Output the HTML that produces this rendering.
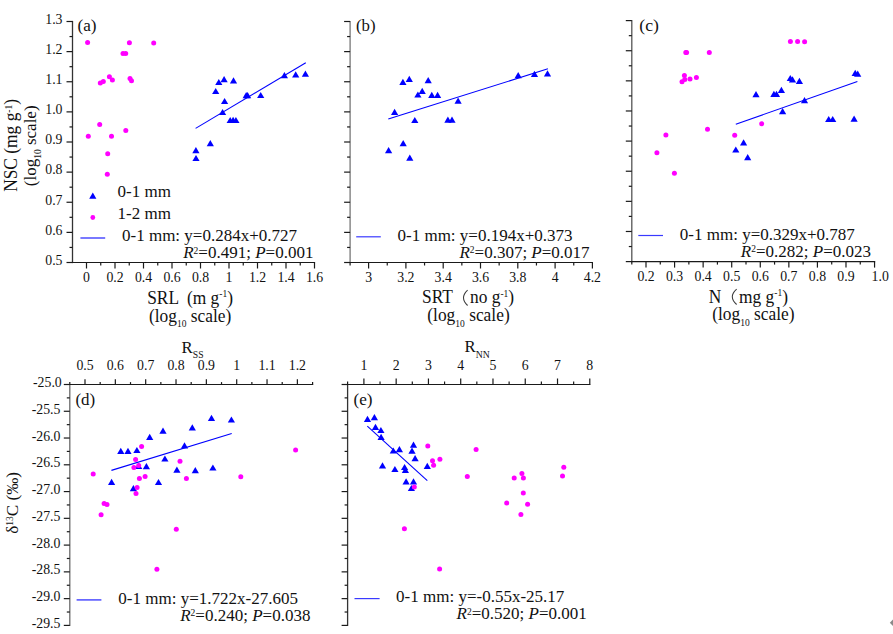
<!DOCTYPE html>
<html><head><meta charset="utf-8"><title>Figure</title>
<style>
html,body{margin:0;padding:0;background:#fff;}
body{width:893px;height:634px;overflow:hidden;}
svg{display:block;font-family:"Liberation Serif", serif;}
text{fill:#111;}
</style></head>
<body>
<svg width="893" height="634" viewBox="0 0 893 634">
<rect width="893" height="634" fill="#fff"/>
<line x1="72.50" y1="20.90" x2="72.50" y2="263.10" stroke="#333" stroke-width="1.3"/>
<line x1="66.50" y1="21.50" x2="72.50" y2="21.50" stroke="#1a1a1a" stroke-width="1.2"/>
<text x="62.50" y="23.80" font-size="13.8" text-anchor="end" >1.3</text>
<line x1="69.50" y1="36.56" x2="72.50" y2="36.56" stroke="#1a1a1a" stroke-width="1.2"/>
<line x1="66.50" y1="51.62" x2="72.50" y2="51.62" stroke="#1a1a1a" stroke-width="1.2"/>
<text x="62.50" y="53.92" font-size="13.8" text-anchor="end" >1.2</text>
<line x1="69.50" y1="66.69" x2="72.50" y2="66.69" stroke="#1a1a1a" stroke-width="1.2"/>
<line x1="66.50" y1="81.75" x2="72.50" y2="81.75" stroke="#1a1a1a" stroke-width="1.2"/>
<text x="62.50" y="84.05" font-size="13.8" text-anchor="end" >1.1</text>
<line x1="69.50" y1="96.81" x2="72.50" y2="96.81" stroke="#1a1a1a" stroke-width="1.2"/>
<line x1="66.50" y1="111.88" x2="72.50" y2="111.88" stroke="#1a1a1a" stroke-width="1.2"/>
<text x="62.50" y="114.17" font-size="13.8" text-anchor="end" >1.0</text>
<line x1="69.50" y1="126.94" x2="72.50" y2="126.94" stroke="#1a1a1a" stroke-width="1.2"/>
<line x1="66.50" y1="142.00" x2="72.50" y2="142.00" stroke="#1a1a1a" stroke-width="1.2"/>
<text x="62.50" y="144.30" font-size="13.8" text-anchor="end" >0.9</text>
<line x1="69.50" y1="157.06" x2="72.50" y2="157.06" stroke="#1a1a1a" stroke-width="1.2"/>
<line x1="66.50" y1="172.12" x2="72.50" y2="172.12" stroke="#1a1a1a" stroke-width="1.2"/>
<text x="62.50" y="174.43" font-size="13.8" text-anchor="end" >0.8</text>
<line x1="69.50" y1="187.19" x2="72.50" y2="187.19" stroke="#1a1a1a" stroke-width="1.2"/>
<line x1="66.50" y1="202.25" x2="72.50" y2="202.25" stroke="#1a1a1a" stroke-width="1.2"/>
<text x="62.50" y="204.55" font-size="13.8" text-anchor="end" >0.7</text>
<line x1="69.50" y1="217.31" x2="72.50" y2="217.31" stroke="#1a1a1a" stroke-width="1.2"/>
<line x1="66.50" y1="232.38" x2="72.50" y2="232.38" stroke="#1a1a1a" stroke-width="1.2"/>
<text x="62.50" y="234.68" font-size="13.8" text-anchor="end" >0.6</text>
<line x1="69.50" y1="247.44" x2="72.50" y2="247.44" stroke="#1a1a1a" stroke-width="1.2"/>
<line x1="66.50" y1="262.50" x2="72.50" y2="262.50" stroke="#1a1a1a" stroke-width="1.2"/>
<text x="62.50" y="264.80" font-size="13.8" text-anchor="end" >0.5</text>
<line x1="71.90" y1="262.50" x2="315.10" y2="262.50" stroke="#1a1a1a" stroke-width="1.2"/>
<line x1="86.50" y1="262.50" x2="86.50" y2="268.50" stroke="#1a1a1a" stroke-width="1.2"/>
<text x="86.50" y="281.50" font-size="13.8" text-anchor="middle" >0</text>
<line x1="115.00" y1="262.50" x2="115.00" y2="268.50" stroke="#1a1a1a" stroke-width="1.2"/>
<text x="115.00" y="281.50" font-size="13.8" text-anchor="middle" >0.2</text>
<line x1="143.50" y1="262.50" x2="143.50" y2="268.50" stroke="#1a1a1a" stroke-width="1.2"/>
<text x="143.50" y="281.50" font-size="13.8" text-anchor="middle" >0.4</text>
<line x1="172.00" y1="262.50" x2="172.00" y2="268.50" stroke="#1a1a1a" stroke-width="1.2"/>
<text x="172.00" y="281.50" font-size="13.8" text-anchor="middle" >0.6</text>
<line x1="200.50" y1="262.50" x2="200.50" y2="268.50" stroke="#1a1a1a" stroke-width="1.2"/>
<text x="200.50" y="281.50" font-size="13.8" text-anchor="middle" >0.8</text>
<line x1="229.00" y1="262.50" x2="229.00" y2="268.50" stroke="#1a1a1a" stroke-width="1.2"/>
<text x="229.00" y="281.50" font-size="13.8" text-anchor="middle" >1</text>
<line x1="257.50" y1="262.50" x2="257.50" y2="268.50" stroke="#1a1a1a" stroke-width="1.2"/>
<text x="257.50" y="281.50" font-size="13.8" text-anchor="middle" >1.2</text>
<line x1="286.00" y1="262.50" x2="286.00" y2="268.50" stroke="#1a1a1a" stroke-width="1.2"/>
<text x="286.00" y="281.50" font-size="13.8" text-anchor="middle" >1.4</text>
<line x1="314.50" y1="262.50" x2="314.50" y2="268.50" stroke="#1a1a1a" stroke-width="1.2"/>
<text x="314.50" y="281.50" font-size="13.8" text-anchor="middle" >1.6</text>
<line x1="100.75" y1="262.50" x2="100.75" y2="265.50" stroke="#1a1a1a" stroke-width="1.2"/>
<line x1="129.25" y1="262.50" x2="129.25" y2="265.50" stroke="#1a1a1a" stroke-width="1.2"/>
<line x1="157.75" y1="262.50" x2="157.75" y2="265.50" stroke="#1a1a1a" stroke-width="1.2"/>
<line x1="186.25" y1="262.50" x2="186.25" y2="265.50" stroke="#1a1a1a" stroke-width="1.2"/>
<line x1="214.75" y1="262.50" x2="214.75" y2="265.50" stroke="#1a1a1a" stroke-width="1.2"/>
<line x1="243.25" y1="262.50" x2="243.25" y2="265.50" stroke="#1a1a1a" stroke-width="1.2"/>
<line x1="271.75" y1="262.50" x2="271.75" y2="265.50" stroke="#1a1a1a" stroke-width="1.2"/>
<line x1="300.25" y1="262.50" x2="300.25" y2="265.50" stroke="#1a1a1a" stroke-width="1.2"/>
<line x1="350.10" y1="20.90" x2="350.10" y2="263.10" stroke="#777" stroke-width="1.3"/>
<line x1="344.10" y1="21.50" x2="350.10" y2="21.50" stroke="#1a1a1a" stroke-width="1.2"/>
<line x1="347.10" y1="36.56" x2="350.10" y2="36.56" stroke="#1a1a1a" stroke-width="1.2"/>
<line x1="344.10" y1="51.62" x2="350.10" y2="51.62" stroke="#1a1a1a" stroke-width="1.2"/>
<line x1="347.10" y1="66.69" x2="350.10" y2="66.69" stroke="#1a1a1a" stroke-width="1.2"/>
<line x1="344.10" y1="81.75" x2="350.10" y2="81.75" stroke="#1a1a1a" stroke-width="1.2"/>
<line x1="347.10" y1="96.81" x2="350.10" y2="96.81" stroke="#1a1a1a" stroke-width="1.2"/>
<line x1="344.10" y1="111.88" x2="350.10" y2="111.88" stroke="#1a1a1a" stroke-width="1.2"/>
<line x1="347.10" y1="126.94" x2="350.10" y2="126.94" stroke="#1a1a1a" stroke-width="1.2"/>
<line x1="344.10" y1="142.00" x2="350.10" y2="142.00" stroke="#1a1a1a" stroke-width="1.2"/>
<line x1="347.10" y1="157.06" x2="350.10" y2="157.06" stroke="#1a1a1a" stroke-width="1.2"/>
<line x1="344.10" y1="172.12" x2="350.10" y2="172.12" stroke="#1a1a1a" stroke-width="1.2"/>
<line x1="347.10" y1="187.19" x2="350.10" y2="187.19" stroke="#1a1a1a" stroke-width="1.2"/>
<line x1="344.10" y1="202.25" x2="350.10" y2="202.25" stroke="#1a1a1a" stroke-width="1.2"/>
<line x1="347.10" y1="217.31" x2="350.10" y2="217.31" stroke="#1a1a1a" stroke-width="1.2"/>
<line x1="344.10" y1="232.38" x2="350.10" y2="232.38" stroke="#1a1a1a" stroke-width="1.2"/>
<line x1="347.10" y1="247.44" x2="350.10" y2="247.44" stroke="#1a1a1a" stroke-width="1.2"/>
<line x1="344.10" y1="262.50" x2="350.10" y2="262.50" stroke="#1a1a1a" stroke-width="1.2"/>
<line x1="349.50" y1="262.50" x2="593.00" y2="262.50" stroke="#1a1a1a" stroke-width="1.2"/>
<line x1="368.60" y1="262.50" x2="368.60" y2="268.50" stroke="#1a1a1a" stroke-width="1.2"/>
<text x="368.60" y="281.50" font-size="13.8" text-anchor="middle" >3</text>
<line x1="405.90" y1="262.50" x2="405.90" y2="268.50" stroke="#1a1a1a" stroke-width="1.2"/>
<text x="405.90" y="281.50" font-size="13.8" text-anchor="middle" >3.2</text>
<line x1="443.20" y1="262.50" x2="443.20" y2="268.50" stroke="#1a1a1a" stroke-width="1.2"/>
<text x="443.20" y="281.50" font-size="13.8" text-anchor="middle" >3.4</text>
<line x1="480.50" y1="262.50" x2="480.50" y2="268.50" stroke="#1a1a1a" stroke-width="1.2"/>
<text x="480.50" y="281.50" font-size="13.8" text-anchor="middle" >3.6</text>
<line x1="517.80" y1="262.50" x2="517.80" y2="268.50" stroke="#1a1a1a" stroke-width="1.2"/>
<text x="517.80" y="281.50" font-size="13.8" text-anchor="middle" >3.8</text>
<line x1="555.10" y1="262.50" x2="555.10" y2="268.50" stroke="#1a1a1a" stroke-width="1.2"/>
<text x="555.10" y="281.50" font-size="13.8" text-anchor="middle" >4</text>
<line x1="592.40" y1="262.50" x2="592.40" y2="268.50" stroke="#1a1a1a" stroke-width="1.2"/>
<text x="592.40" y="281.50" font-size="13.8" text-anchor="middle" >4.2</text>
<line x1="350.10" y1="262.50" x2="350.10" y2="265.50" stroke="#1a1a1a" stroke-width="1.2"/>
<line x1="387.25" y1="262.50" x2="387.25" y2="265.50" stroke="#1a1a1a" stroke-width="1.2"/>
<line x1="424.55" y1="262.50" x2="424.55" y2="265.50" stroke="#1a1a1a" stroke-width="1.2"/>
<line x1="461.85" y1="262.50" x2="461.85" y2="265.50" stroke="#1a1a1a" stroke-width="1.2"/>
<line x1="499.15" y1="262.50" x2="499.15" y2="265.50" stroke="#1a1a1a" stroke-width="1.2"/>
<line x1="536.45" y1="262.50" x2="536.45" y2="265.50" stroke="#1a1a1a" stroke-width="1.2"/>
<line x1="573.75" y1="262.50" x2="573.75" y2="265.50" stroke="#1a1a1a" stroke-width="1.2"/>
<line x1="631.80" y1="20.00" x2="631.80" y2="262.20" stroke="#555" stroke-width="1.3"/>
<line x1="625.80" y1="20.60" x2="631.80" y2="20.60" stroke="#1a1a1a" stroke-width="1.2"/>
<line x1="628.80" y1="35.66" x2="631.80" y2="35.66" stroke="#1a1a1a" stroke-width="1.2"/>
<line x1="625.80" y1="50.73" x2="631.80" y2="50.73" stroke="#1a1a1a" stroke-width="1.2"/>
<line x1="628.80" y1="65.79" x2="631.80" y2="65.79" stroke="#1a1a1a" stroke-width="1.2"/>
<line x1="625.80" y1="80.85" x2="631.80" y2="80.85" stroke="#1a1a1a" stroke-width="1.2"/>
<line x1="628.80" y1="95.91" x2="631.80" y2="95.91" stroke="#1a1a1a" stroke-width="1.2"/>
<line x1="625.80" y1="110.98" x2="631.80" y2="110.98" stroke="#1a1a1a" stroke-width="1.2"/>
<line x1="628.80" y1="126.04" x2="631.80" y2="126.04" stroke="#1a1a1a" stroke-width="1.2"/>
<line x1="625.80" y1="141.10" x2="631.80" y2="141.10" stroke="#1a1a1a" stroke-width="1.2"/>
<line x1="628.80" y1="156.16" x2="631.80" y2="156.16" stroke="#1a1a1a" stroke-width="1.2"/>
<line x1="625.80" y1="171.23" x2="631.80" y2="171.23" stroke="#1a1a1a" stroke-width="1.2"/>
<line x1="628.80" y1="186.29" x2="631.80" y2="186.29" stroke="#1a1a1a" stroke-width="1.2"/>
<line x1="625.80" y1="201.35" x2="631.80" y2="201.35" stroke="#1a1a1a" stroke-width="1.2"/>
<line x1="628.80" y1="216.41" x2="631.80" y2="216.41" stroke="#1a1a1a" stroke-width="1.2"/>
<line x1="625.80" y1="231.48" x2="631.80" y2="231.48" stroke="#1a1a1a" stroke-width="1.2"/>
<line x1="628.80" y1="246.54" x2="631.80" y2="246.54" stroke="#1a1a1a" stroke-width="1.2"/>
<line x1="625.80" y1="261.60" x2="631.80" y2="261.60" stroke="#1a1a1a" stroke-width="1.2"/>
<line x1="631.20" y1="261.60" x2="875.20" y2="261.60" stroke="#1a1a1a" stroke-width="1.2"/>
<line x1="646.00" y1="261.60" x2="646.00" y2="267.60" stroke="#1a1a1a" stroke-width="1.2"/>
<text x="646.00" y="280.60" font-size="13.8" text-anchor="middle" >0.2</text>
<line x1="674.57" y1="261.60" x2="674.57" y2="267.60" stroke="#1a1a1a" stroke-width="1.2"/>
<text x="674.57" y="280.60" font-size="13.8" text-anchor="middle" >0.3</text>
<line x1="703.14" y1="261.60" x2="703.14" y2="267.60" stroke="#1a1a1a" stroke-width="1.2"/>
<text x="703.14" y="280.60" font-size="13.8" text-anchor="middle" >0.4</text>
<line x1="731.71" y1="261.60" x2="731.71" y2="267.60" stroke="#1a1a1a" stroke-width="1.2"/>
<text x="731.71" y="280.60" font-size="13.8" text-anchor="middle" >0.5</text>
<line x1="760.28" y1="261.60" x2="760.28" y2="267.60" stroke="#1a1a1a" stroke-width="1.2"/>
<text x="760.28" y="280.60" font-size="13.8" text-anchor="middle" >0.6</text>
<line x1="788.85" y1="261.60" x2="788.85" y2="267.60" stroke="#1a1a1a" stroke-width="1.2"/>
<text x="788.85" y="280.60" font-size="13.8" text-anchor="middle" >0.7</text>
<line x1="817.42" y1="261.60" x2="817.42" y2="267.60" stroke="#1a1a1a" stroke-width="1.2"/>
<text x="817.42" y="280.60" font-size="13.8" text-anchor="middle" >0.8</text>
<line x1="845.99" y1="261.60" x2="845.99" y2="267.60" stroke="#1a1a1a" stroke-width="1.2"/>
<text x="845.99" y="280.60" font-size="13.8" text-anchor="middle" >0.9</text>
<line x1="874.56" y1="261.60" x2="874.56" y2="267.60" stroke="#1a1a1a" stroke-width="1.2"/>
<text x="880.16" y="280.60" font-size="13.8" text-anchor="middle" >1.0</text>
<line x1="631.80" y1="261.60" x2="631.80" y2="264.60" stroke="#1a1a1a" stroke-width="1.2"/>
<line x1="660.28" y1="261.60" x2="660.28" y2="264.60" stroke="#1a1a1a" stroke-width="1.2"/>
<line x1="688.86" y1="261.60" x2="688.86" y2="264.60" stroke="#1a1a1a" stroke-width="1.2"/>
<line x1="717.42" y1="261.60" x2="717.42" y2="264.60" stroke="#1a1a1a" stroke-width="1.2"/>
<line x1="746.00" y1="261.60" x2="746.00" y2="264.60" stroke="#1a1a1a" stroke-width="1.2"/>
<line x1="774.56" y1="261.60" x2="774.56" y2="264.60" stroke="#1a1a1a" stroke-width="1.2"/>
<line x1="803.13" y1="261.60" x2="803.13" y2="264.60" stroke="#1a1a1a" stroke-width="1.2"/>
<line x1="831.71" y1="261.60" x2="831.71" y2="264.60" stroke="#1a1a1a" stroke-width="1.2"/>
<line x1="860.27" y1="261.60" x2="860.27" y2="264.60" stroke="#1a1a1a" stroke-width="1.2"/>
<line x1="69.80" y1="383.90" x2="69.80" y2="626.00" stroke="#6a6a6a" stroke-width="1.3"/>
<line x1="63.80" y1="384.50" x2="69.80" y2="384.50" stroke="#1a1a1a" stroke-width="1.2"/>
<text x="61.75" y="387.00" font-size="13.8" text-anchor="end" >-25.0</text>
<line x1="66.80" y1="397.88" x2="69.80" y2="397.88" stroke="#1a1a1a" stroke-width="1.2"/>
<line x1="63.80" y1="411.27" x2="69.80" y2="411.27" stroke="#1a1a1a" stroke-width="1.2"/>
<text x="60.45" y="413.77" font-size="13.8" text-anchor="end" >-25.5</text>
<line x1="66.80" y1="424.65" x2="69.80" y2="424.65" stroke="#1a1a1a" stroke-width="1.2"/>
<line x1="63.80" y1="438.03" x2="69.80" y2="438.03" stroke="#1a1a1a" stroke-width="1.2"/>
<text x="60.45" y="440.53" font-size="13.8" text-anchor="end" >-26.0</text>
<line x1="66.80" y1="451.42" x2="69.80" y2="451.42" stroke="#1a1a1a" stroke-width="1.2"/>
<line x1="63.80" y1="464.80" x2="69.80" y2="464.80" stroke="#1a1a1a" stroke-width="1.2"/>
<text x="60.45" y="467.30" font-size="13.8" text-anchor="end" >-26.5</text>
<line x1="66.80" y1="478.18" x2="69.80" y2="478.18" stroke="#1a1a1a" stroke-width="1.2"/>
<line x1="63.80" y1="491.57" x2="69.80" y2="491.57" stroke="#1a1a1a" stroke-width="1.2"/>
<text x="60.45" y="494.07" font-size="13.8" text-anchor="end" >-27.0</text>
<line x1="66.80" y1="504.95" x2="69.80" y2="504.95" stroke="#1a1a1a" stroke-width="1.2"/>
<line x1="63.80" y1="518.33" x2="69.80" y2="518.33" stroke="#1a1a1a" stroke-width="1.2"/>
<text x="60.45" y="520.83" font-size="13.8" text-anchor="end" >-27.5</text>
<line x1="66.80" y1="531.72" x2="69.80" y2="531.72" stroke="#1a1a1a" stroke-width="1.2"/>
<line x1="63.80" y1="545.10" x2="69.80" y2="545.10" stroke="#1a1a1a" stroke-width="1.2"/>
<text x="60.45" y="547.60" font-size="13.8" text-anchor="end" >-28.0</text>
<line x1="66.80" y1="558.48" x2="69.80" y2="558.48" stroke="#1a1a1a" stroke-width="1.2"/>
<line x1="63.80" y1="571.87" x2="69.80" y2="571.87" stroke="#1a1a1a" stroke-width="1.2"/>
<text x="60.45" y="574.37" font-size="13.8" text-anchor="end" >-28.5</text>
<line x1="66.80" y1="585.25" x2="69.80" y2="585.25" stroke="#1a1a1a" stroke-width="1.2"/>
<line x1="63.80" y1="598.63" x2="69.80" y2="598.63" stroke="#1a1a1a" stroke-width="1.2"/>
<text x="60.45" y="601.13" font-size="13.8" text-anchor="end" >-29.0</text>
<line x1="66.80" y1="612.02" x2="69.80" y2="612.02" stroke="#1a1a1a" stroke-width="1.2"/>
<line x1="63.80" y1="625.40" x2="69.80" y2="625.40" stroke="#1a1a1a" stroke-width="1.2"/>
<text x="60.45" y="627.90" font-size="13.8" text-anchor="end" >-29.5</text>
<line x1="69.20" y1="384.50" x2="313.20" y2="384.50" stroke="#1a1a1a" stroke-width="1.2"/>
<line x1="85.00" y1="384.50" x2="85.00" y2="379.30" stroke="#1a1a1a" stroke-width="1.2"/>
<text x="85.00" y="370.00" font-size="13.8" text-anchor="middle" >0.5</text>
<line x1="115.34" y1="384.50" x2="115.34" y2="379.30" stroke="#1a1a1a" stroke-width="1.2"/>
<text x="115.34" y="370.00" font-size="13.8" text-anchor="middle" >0.6</text>
<line x1="145.68" y1="384.50" x2="145.68" y2="379.30" stroke="#1a1a1a" stroke-width="1.2"/>
<text x="145.68" y="370.00" font-size="13.8" text-anchor="middle" >0.7</text>
<line x1="176.02" y1="384.50" x2="176.02" y2="379.30" stroke="#1a1a1a" stroke-width="1.2"/>
<text x="176.02" y="370.00" font-size="13.8" text-anchor="middle" >0.8</text>
<line x1="206.36" y1="384.50" x2="206.36" y2="379.30" stroke="#1a1a1a" stroke-width="1.2"/>
<text x="206.36" y="370.00" font-size="13.8" text-anchor="middle" >0.9</text>
<line x1="236.70" y1="384.50" x2="236.70" y2="379.30" stroke="#1a1a1a" stroke-width="1.2"/>
<text x="236.70" y="370.00" font-size="13.8" text-anchor="middle" >1</text>
<line x1="267.04" y1="384.50" x2="267.04" y2="379.30" stroke="#1a1a1a" stroke-width="1.2"/>
<text x="267.04" y="370.00" font-size="13.8" text-anchor="middle" >1.1</text>
<line x1="297.38" y1="384.50" x2="297.38" y2="379.30" stroke="#1a1a1a" stroke-width="1.2"/>
<text x="297.38" y="370.00" font-size="13.8" text-anchor="middle" >1.2</text>
<line x1="69.80" y1="384.50" x2="69.80" y2="382.10" stroke="#1a1a1a" stroke-width="1.2"/>
<line x1="100.17" y1="384.50" x2="100.17" y2="382.10" stroke="#1a1a1a" stroke-width="1.2"/>
<line x1="130.51" y1="384.50" x2="130.51" y2="382.10" stroke="#1a1a1a" stroke-width="1.2"/>
<line x1="160.85" y1="384.50" x2="160.85" y2="382.10" stroke="#1a1a1a" stroke-width="1.2"/>
<line x1="191.19" y1="384.50" x2="191.19" y2="382.10" stroke="#1a1a1a" stroke-width="1.2"/>
<line x1="221.53" y1="384.50" x2="221.53" y2="382.10" stroke="#1a1a1a" stroke-width="1.2"/>
<line x1="251.87" y1="384.50" x2="251.87" y2="382.10" stroke="#1a1a1a" stroke-width="1.2"/>
<line x1="282.21" y1="384.50" x2="282.21" y2="382.10" stroke="#1a1a1a" stroke-width="1.2"/>
<line x1="312.60" y1="384.50" x2="312.60" y2="382.10" stroke="#1a1a1a" stroke-width="1.2"/>
<line x1="347.60" y1="383.90" x2="347.60" y2="626.00" stroke="#333" stroke-width="1.3"/>
<line x1="341.60" y1="384.50" x2="347.60" y2="384.50" stroke="#1a1a1a" stroke-width="1.2"/>
<line x1="344.60" y1="397.88" x2="347.60" y2="397.88" stroke="#1a1a1a" stroke-width="1.2"/>
<line x1="341.60" y1="411.27" x2="347.60" y2="411.27" stroke="#1a1a1a" stroke-width="1.2"/>
<line x1="344.60" y1="424.65" x2="347.60" y2="424.65" stroke="#1a1a1a" stroke-width="1.2"/>
<line x1="341.60" y1="438.03" x2="347.60" y2="438.03" stroke="#1a1a1a" stroke-width="1.2"/>
<line x1="344.60" y1="451.42" x2="347.60" y2="451.42" stroke="#1a1a1a" stroke-width="1.2"/>
<line x1="341.60" y1="464.80" x2="347.60" y2="464.80" stroke="#1a1a1a" stroke-width="1.2"/>
<line x1="344.60" y1="478.18" x2="347.60" y2="478.18" stroke="#1a1a1a" stroke-width="1.2"/>
<line x1="341.60" y1="491.57" x2="347.60" y2="491.57" stroke="#1a1a1a" stroke-width="1.2"/>
<line x1="344.60" y1="504.95" x2="347.60" y2="504.95" stroke="#1a1a1a" stroke-width="1.2"/>
<line x1="341.60" y1="518.33" x2="347.60" y2="518.33" stroke="#1a1a1a" stroke-width="1.2"/>
<line x1="344.60" y1="531.72" x2="347.60" y2="531.72" stroke="#1a1a1a" stroke-width="1.2"/>
<line x1="341.60" y1="545.10" x2="347.60" y2="545.10" stroke="#1a1a1a" stroke-width="1.2"/>
<line x1="344.60" y1="558.48" x2="347.60" y2="558.48" stroke="#1a1a1a" stroke-width="1.2"/>
<line x1="341.60" y1="571.87" x2="347.60" y2="571.87" stroke="#1a1a1a" stroke-width="1.2"/>
<line x1="344.60" y1="585.25" x2="347.60" y2="585.25" stroke="#1a1a1a" stroke-width="1.2"/>
<line x1="341.60" y1="598.63" x2="347.60" y2="598.63" stroke="#1a1a1a" stroke-width="1.2"/>
<line x1="344.60" y1="612.02" x2="347.60" y2="612.02" stroke="#1a1a1a" stroke-width="1.2"/>
<line x1="341.60" y1="625.40" x2="347.60" y2="625.40" stroke="#1a1a1a" stroke-width="1.2"/>
<line x1="347.00" y1="384.50" x2="590.40" y2="384.50" stroke="#1a1a1a" stroke-width="1.2"/>
<line x1="363.90" y1="384.50" x2="363.90" y2="378.50" stroke="#1a1a1a" stroke-width="1.2"/>
<text x="363.90" y="369.50" font-size="13.8" text-anchor="middle" >1</text>
<line x1="396.17" y1="384.50" x2="396.17" y2="378.50" stroke="#1a1a1a" stroke-width="1.2"/>
<text x="396.17" y="369.50" font-size="13.8" text-anchor="middle" >2</text>
<line x1="428.44" y1="384.50" x2="428.44" y2="378.50" stroke="#1a1a1a" stroke-width="1.2"/>
<text x="428.44" y="369.50" font-size="13.8" text-anchor="middle" >3</text>
<line x1="460.71" y1="384.50" x2="460.71" y2="378.50" stroke="#1a1a1a" stroke-width="1.2"/>
<text x="460.71" y="369.50" font-size="13.8" text-anchor="middle" >4</text>
<line x1="492.98" y1="384.50" x2="492.98" y2="378.50" stroke="#1a1a1a" stroke-width="1.2"/>
<text x="492.98" y="369.50" font-size="13.8" text-anchor="middle" >5</text>
<line x1="525.25" y1="384.50" x2="525.25" y2="378.50" stroke="#1a1a1a" stroke-width="1.2"/>
<text x="525.25" y="369.50" font-size="13.8" text-anchor="middle" >6</text>
<line x1="557.52" y1="384.50" x2="557.52" y2="378.50" stroke="#1a1a1a" stroke-width="1.2"/>
<text x="557.52" y="369.50" font-size="13.8" text-anchor="middle" >7</text>
<line x1="589.79" y1="384.50" x2="589.79" y2="378.50" stroke="#1a1a1a" stroke-width="1.2"/>
<text x="589.79" y="369.50" font-size="13.8" text-anchor="middle" >8</text>
<line x1="347.60" y1="384.50" x2="347.60" y2="381.50" stroke="#1a1a1a" stroke-width="1.2"/>
<line x1="380.03" y1="384.50" x2="380.03" y2="381.50" stroke="#1a1a1a" stroke-width="1.2"/>
<line x1="412.30" y1="384.50" x2="412.30" y2="381.50" stroke="#1a1a1a" stroke-width="1.2"/>
<line x1="444.57" y1="384.50" x2="444.57" y2="381.50" stroke="#1a1a1a" stroke-width="1.2"/>
<line x1="476.84" y1="384.50" x2="476.84" y2="381.50" stroke="#1a1a1a" stroke-width="1.2"/>
<line x1="509.12" y1="384.50" x2="509.12" y2="381.50" stroke="#1a1a1a" stroke-width="1.2"/>
<line x1="541.38" y1="384.50" x2="541.38" y2="381.50" stroke="#1a1a1a" stroke-width="1.2"/>
<line x1="573.65" y1="384.50" x2="573.65" y2="381.50" stroke="#1a1a1a" stroke-width="1.2"/>
<text transform="translate(77.50,31.00) scale(0.97,1.0)" font-size="17.7" text-anchor="start" >(a)</text>
<text transform="translate(356.00,31.20) scale(0.95,1.0)" font-size="17.7" text-anchor="start" >(b)</text>
<text x="639.30" y="30.90" font-size="17.7" text-anchor="start" >(c)</text>
<text transform="translate(75.40,404.90) scale(0.96,1.0)" font-size="17.7" text-anchor="start" >(d)</text>
<text transform="translate(353.50,404.60) scale(0.97,1.0)" font-size="17.7" text-anchor="start" >(e)</text>
<text transform="translate(147.20,303.50) scale(1.0,1.035)" font-size="17.4" >SRL</text>
<text transform="translate(186.90,303.50) scale(1.0,1.035)" font-size="17.4" >(m g<tspan font-size="9.5" dy="-6.0">-1</tspan><tspan dy="6.0">)</tspan></text>
<text transform="translate(149.00,321.80) scale(1.0,1.035)" font-size="17.4" >(log<tspan font-size="9.5" dy="5.2">10</tspan><tspan dy="-5.2"> scale)</tspan></text>
<text transform="translate(422.00,302.90) scale(1.0,1.035)" font-size="17.4" >SRT</text>
<path d="M467.6,290.1 Q459.4,297.8 467.6,305.5" fill="none" stroke="#3a3a3a" stroke-width="1.05"/>
<text transform="translate(470.00,302.90) scale(1.0,1.035)" font-size="17.4" >no g<tspan font-size="9.5" dy="-6.0">-1</tspan><tspan dy="6.0">)</tspan></text>
<text transform="translate(427.30,321.40) scale(1.0,1.035)" font-size="17.4" >(log<tspan font-size="9.5" dy="5.2">10</tspan><tspan dy="-5.2"> scale)</tspan></text>
<text transform="translate(708.70,302.50) scale(1.0,1.035)" font-size="17.4" >N</text>
<path d="M736.65,289.1 Q727.95,296.8 736.65,304.5" fill="none" stroke="#3a3a3a" stroke-width="1.05"/>
<text transform="translate(739.00,302.50) scale(1.0,1.035)" font-size="17.4" >mg g<tspan font-size="9.5" dy="-6.0">-1</tspan><tspan dy="6.0">)</tspan></text>
<text transform="translate(712.20,320.40) scale(1.0,1.035)" font-size="17.4" >(log<tspan font-size="9.5" dy="5.2">10</tspan><tspan dy="-5.2"> scale)</tspan></text>
<text transform="translate(16.9,145.4) rotate(-90) scale(1,1.05)" font-size="17.4" text-anchor="middle">NSC (mg g<tspan font-size="9.5" dy="-4.9">-1</tspan><tspan dy="4.9">)</tspan></text>
<text transform="translate(35.6,145.8) rotate(-90) scale(1,1.04)" font-size="17.0" text-anchor="middle">(log<tspan font-size="9.5" dy="5.2">10</tspan><tspan dy="-5.2"> scale)</tspan></text>
<text transform="translate(18.3,502.9) rotate(-90) scale(1,1.03)" font-size="17.1" text-anchor="middle">δ<tspan font-size="9.5" dy="-5">13</tspan><tspan dy="5">C (‰)</tspan></text>
<text transform="translate(181.6,352.8) scale(0.97,1.0)" font-size="17.3">R<tspan font-size="10" dy="5.2">SS</tspan></text>
<text transform="translate(464.6,351.7) scale(0.97,1.0)" font-size="17.3">R<tspan font-size="10" dy="5.9">NN</tspan></text>
<polygon points="92.80,192.58 96.40,198.82 89.20,198.82" fill="#0000ff"/>
<text x="117.60" y="197.30" font-size="17.0" text-anchor="start" >0-1 mm</text>
<circle cx="92.80" cy="217.50" r="2.4" fill="#ff00ff"/>
<text x="117.60" y="219.40" font-size="17.0" text-anchor="start" >1-2 mm</text>
<line x1="80.40" y1="238.00" x2="105.20" y2="238.00" stroke="#4d4dff" stroke-width="1.5"/>
<text x="122.00" y="241.40" font-size="17.0" text-anchor="start" >0-1 mm: y=0.284x+0.727</text>
<text x="313.40" y="258.40" font-size="17.0" text-anchor="end"><tspan font-style="italic">R</tspan><tspan font-size="9.5" dy="-4.6">2</tspan><tspan dy="4.6">=0.491; </tspan><tspan font-style="italic">P</tspan>=0.001</text>
<line x1="356.20" y1="236.80" x2="380.80" y2="236.80" stroke="#3a3aff" stroke-width="1.2"/>
<text x="397.50" y="241.00" font-size="17.0" text-anchor="start" >0-1 mm: y=0.194x+0.373</text>
<text x="589.60" y="258.00" font-size="17.0" text-anchor="end"><tspan font-style="italic">R</tspan><tspan font-size="9.5" dy="-4.6">2</tspan><tspan dy="4.6">=0.307; </tspan><tspan font-style="italic">P</tspan>=0.017</text>
<line x1="638.30" y1="235.50" x2="663.00" y2="235.50" stroke="#3a3aff" stroke-width="1.2"/>
<text x="679.80" y="239.60" font-size="17.0" text-anchor="start" >0-1 mm: y=0.329x+0.787</text>
<text x="871.00" y="256.60" font-size="17.0" text-anchor="end"><tspan font-style="italic">R</tspan><tspan font-size="9.5" dy="-4.6">2</tspan><tspan dy="4.6">=0.282; </tspan><tspan font-style="italic">P</tspan>=0.023</text>
<line x1="76.60" y1="599.90" x2="101.40" y2="599.90" stroke="#4d4dff" stroke-width="1.5"/>
<text x="118.30" y="603.70" font-size="17.0" text-anchor="start" >0-1 mm: y=1.722x-27.605</text>
<text x="310.40" y="620.50" font-size="17.0" text-anchor="end"><tspan font-style="italic">R</tspan><tspan font-size="9.5" dy="-4.6">2</tspan><tspan dy="4.6">=0.240; </tspan><tspan font-style="italic">P</tspan>=0.038</text>
<line x1="354.50" y1="598.60" x2="379.60" y2="598.60" stroke="#3a3aff" stroke-width="1.2"/>
<text x="396.10" y="602.40" font-size="17.0" text-anchor="start" >0-1 mm: y=-0.55x-25.17</text>
<text x="586.80" y="619.30" font-size="17.0" text-anchor="end"><tspan font-style="italic">R</tspan><tspan font-size="9.5" dy="-4.6">2</tspan><tspan dy="4.6">=0.520; </tspan><tspan font-style="italic">P</tspan>=0.001</text>
<line x1="195.60" y1="128.40" x2="305.80" y2="62.70" stroke="#0000ff" stroke-width="1.1"/>
<line x1="388.30" y1="119.10" x2="547.90" y2="68.80" stroke="#0000ff" stroke-width="1.1"/>
<line x1="735.80" y1="124.20" x2="857.40" y2="81.60" stroke="#0000ff" stroke-width="1.1"/>
<line x1="111.40" y1="470.40" x2="231.70" y2="433.50" stroke="#0000ff" stroke-width="1.1"/>
<line x1="367.30" y1="426.20" x2="427.30" y2="480.60" stroke="#0000ff" stroke-width="1.1"/>
<circle cx="87.60" cy="42.40" r="2.5" fill="#ff00ff"/>
<circle cx="129.40" cy="42.70" r="2.5" fill="#ff00ff"/>
<circle cx="153.70" cy="43.10" r="2.5" fill="#ff00ff"/>
<circle cx="123.00" cy="53.50" r="2.5" fill="#ff00ff"/>
<circle cx="125.70" cy="53.50" r="2.5" fill="#ff00ff"/>
<circle cx="109.40" cy="76.70" r="2.5" fill="#ff00ff"/>
<circle cx="112.40" cy="80.10" r="2.5" fill="#ff00ff"/>
<circle cx="100.30" cy="83.10" r="2.5" fill="#ff00ff"/>
<circle cx="103.30" cy="81.40" r="2.5" fill="#ff00ff"/>
<circle cx="130.00" cy="78.60" r="2.5" fill="#ff00ff"/>
<circle cx="131.50" cy="80.70" r="2.5" fill="#ff00ff"/>
<circle cx="99.70" cy="124.60" r="2.5" fill="#ff00ff"/>
<circle cx="125.80" cy="130.40" r="2.5" fill="#ff00ff"/>
<circle cx="88.30" cy="136.20" r="2.5" fill="#ff00ff"/>
<circle cx="111.50" cy="136.20" r="2.5" fill="#ff00ff"/>
<circle cx="107.70" cy="153.80" r="2.5" fill="#ff00ff"/>
<circle cx="107.30" cy="174.20" r="2.5" fill="#ff00ff"/>
<polygon points="218.80,78.88 222.40,85.12 215.20,85.12" fill="#0000ff"/>
<polygon points="224.10,75.98 227.70,82.22 220.50,82.22" fill="#0000ff"/>
<polygon points="233.50,77.28 237.10,83.52 229.90,83.52" fill="#0000ff"/>
<polygon points="215.70,87.88 219.30,94.12 212.10,94.12" fill="#0000ff"/>
<polygon points="224.60,97.88 228.20,104.12 221.00,104.12" fill="#0000ff"/>
<polygon points="222.60,108.88 226.20,115.12 219.00,115.12" fill="#0000ff"/>
<polygon points="230.20,116.88 233.80,123.12 226.60,123.12" fill="#0000ff"/>
<polygon points="233.10,116.68 236.70,122.92 229.50,122.92" fill="#0000ff"/>
<polygon points="235.90,116.88 239.50,123.12 232.30,123.12" fill="#0000ff"/>
<polygon points="246.20,92.08 249.80,98.32 242.60,98.32" fill="#0000ff"/>
<polygon points="247.60,92.08 251.20,98.32 244.00,98.32" fill="#0000ff"/>
<polygon points="260.70,91.88 264.30,98.12 257.10,98.12" fill="#0000ff"/>
<polygon points="284.40,71.98 288.00,78.22 280.80,78.22" fill="#0000ff"/>
<polygon points="295.70,71.28 299.30,77.52 292.10,77.52" fill="#0000ff"/>
<polygon points="305.40,70.58 309.00,76.82 301.80,76.82" fill="#0000ff"/>
<polygon points="210.30,140.08 213.90,146.32 206.70,146.32" fill="#0000ff"/>
<polygon points="195.90,147.08 199.50,153.32 192.30,153.32" fill="#0000ff"/>
<polygon points="196.00,154.88 199.60,161.12 192.40,161.12" fill="#0000ff"/>
<polygon points="402.90,78.68 406.50,84.92 399.30,84.92" fill="#0000ff"/>
<polygon points="409.30,75.68 412.90,81.92 405.70,81.92" fill="#0000ff"/>
<polygon points="428.20,76.98 431.80,83.22 424.60,83.22" fill="#0000ff"/>
<polygon points="422.20,87.78 425.80,94.02 418.60,94.02" fill="#0000ff"/>
<polygon points="417.90,91.38 421.50,97.62 414.30,97.62" fill="#0000ff"/>
<polygon points="431.80,91.68 435.40,97.92 428.20,97.92" fill="#0000ff"/>
<polygon points="437.60,91.68 441.20,97.92 434.00,97.92" fill="#0000ff"/>
<polygon points="394.60,108.78 398.20,115.02 391.00,115.02" fill="#0000ff"/>
<polygon points="414.80,116.88 418.40,123.12 411.20,123.12" fill="#0000ff"/>
<polygon points="447.90,116.48 451.50,122.72 444.30,122.72" fill="#0000ff"/>
<polygon points="452.00,116.48 455.60,122.72 448.40,122.72" fill="#0000ff"/>
<polygon points="403.20,140.08 406.80,146.32 399.60,146.32" fill="#0000ff"/>
<polygon points="388.60,147.08 392.20,153.32 385.00,153.32" fill="#0000ff"/>
<polygon points="409.80,154.58 413.40,160.82 406.20,160.82" fill="#0000ff"/>
<polygon points="458.10,97.58 461.70,103.82 454.50,103.82" fill="#0000ff"/>
<polygon points="518.20,72.08 521.80,78.32 514.60,78.32" fill="#0000ff"/>
<polygon points="534.50,70.78 538.10,77.02 530.90,77.02" fill="#0000ff"/>
<polygon points="547.50,70.18 551.10,76.42 543.90,76.42" fill="#0000ff"/>
<circle cx="685.80" cy="52.50" r="2.5" fill="#ff00ff"/>
<circle cx="686.60" cy="52.50" r="2.5" fill="#ff00ff"/>
<circle cx="709.30" cy="52.50" r="2.5" fill="#ff00ff"/>
<circle cx="684.40" cy="75.50" r="2.5" fill="#ff00ff"/>
<circle cx="684.80" cy="79.50" r="2.5" fill="#ff00ff"/>
<circle cx="682.00" cy="81.80" r="2.5" fill="#ff00ff"/>
<circle cx="690.00" cy="79.00" r="2.5" fill="#ff00ff"/>
<circle cx="696.40" cy="77.60" r="2.5" fill="#ff00ff"/>
<circle cx="665.90" cy="134.90" r="2.5" fill="#ff00ff"/>
<circle cx="656.90" cy="152.70" r="2.5" fill="#ff00ff"/>
<circle cx="674.40" cy="173.20" r="2.5" fill="#ff00ff"/>
<circle cx="707.50" cy="129.30" r="2.5" fill="#ff00ff"/>
<circle cx="734.70" cy="135.30" r="2.5" fill="#ff00ff"/>
<circle cx="761.70" cy="123.70" r="2.5" fill="#ff00ff"/>
<circle cx="790.40" cy="41.40" r="2.5" fill="#ff00ff"/>
<circle cx="797.60" cy="41.60" r="2.5" fill="#ff00ff"/>
<circle cx="804.60" cy="41.80" r="2.5" fill="#ff00ff"/>
<polygon points="735.80,146.38 739.40,152.62 732.20,152.62" fill="#0000ff"/>
<polygon points="743.60,139.28 747.20,145.52 740.00,145.52" fill="#0000ff"/>
<polygon points="747.70,153.98 751.30,160.22 744.10,160.22" fill="#0000ff"/>
<polygon points="782.60,107.98 786.20,114.22 779.00,114.22" fill="#0000ff"/>
<polygon points="804.50,97.08 808.10,103.32 800.90,103.32" fill="#0000ff"/>
<polygon points="790.30,74.88 793.90,81.12 786.70,81.12" fill="#0000ff"/>
<polygon points="792.50,76.28 796.10,82.52 788.90,82.52" fill="#0000ff"/>
<polygon points="799.40,77.68 803.00,83.92 795.80,83.92" fill="#0000ff"/>
<polygon points="781.40,86.68 785.00,92.92 777.80,92.92" fill="#0000ff"/>
<polygon points="773.90,90.68 777.50,96.92 770.30,96.92" fill="#0000ff"/>
<polygon points="776.50,90.68 780.10,96.92 772.90,96.92" fill="#0000ff"/>
<polygon points="756.00,91.08 759.60,97.32 752.40,97.32" fill="#0000ff"/>
<polygon points="855.20,69.68 858.80,75.92 851.60,75.92" fill="#0000ff"/>
<polygon points="857.70,70.58 861.30,76.82 854.10,76.82" fill="#0000ff"/>
<polygon points="828.70,115.88 832.30,122.12 825.10,122.12" fill="#0000ff"/>
<polygon points="832.70,115.88 836.30,122.12 829.10,122.12" fill="#0000ff"/>
<polygon points="854.10,115.58 857.70,121.82 850.50,121.82" fill="#0000ff"/>
<polygon points="120.80,447.68 124.40,453.92 117.20,453.92" fill="#0000ff"/>
<polygon points="128.00,447.68 131.60,453.92 124.40,453.92" fill="#0000ff"/>
<polygon points="136.90,446.88 140.50,453.12 133.30,453.12" fill="#0000ff"/>
<polygon points="149.70,433.78 153.30,440.02 146.10,440.02" fill="#0000ff"/>
<polygon points="138.70,462.68 142.30,468.92 135.10,468.92" fill="#0000ff"/>
<polygon points="146.40,463.08 150.00,469.32 142.80,469.32" fill="#0000ff"/>
<polygon points="111.60,478.78 115.20,485.02 108.00,485.02" fill="#0000ff"/>
<polygon points="158.50,478.88 162.10,485.12 154.90,485.12" fill="#0000ff"/>
<polygon points="133.40,485.08 137.00,491.32 129.80,491.32" fill="#0000ff"/>
<polygon points="163.00,427.58 166.60,433.82 159.40,433.82" fill="#0000ff"/>
<polygon points="192.30,424.18 195.90,430.42 188.70,430.42" fill="#0000ff"/>
<polygon points="211.50,414.68 215.10,420.92 207.90,420.92" fill="#0000ff"/>
<polygon points="231.40,416.38 235.00,422.62 227.80,422.62" fill="#0000ff"/>
<polygon points="184.50,442.18 188.10,448.42 180.90,448.42" fill="#0000ff"/>
<polygon points="164.90,455.38 168.50,461.62 161.30,461.62" fill="#0000ff"/>
<polygon points="176.90,466.58 180.50,472.82 173.30,472.82" fill="#0000ff"/>
<polygon points="195.30,466.98 198.90,473.22 191.70,473.22" fill="#0000ff"/>
<polygon points="212.90,464.38 216.50,470.62 209.30,470.62" fill="#0000ff"/>
<circle cx="141.60" cy="446.40" r="2.5" fill="#ff00ff"/>
<circle cx="135.60" cy="459.50" r="2.5" fill="#ff00ff"/>
<circle cx="138.70" cy="465.50" r="2.5" fill="#ff00ff"/>
<circle cx="133.90" cy="467.60" r="2.5" fill="#ff00ff"/>
<circle cx="145.10" cy="476.40" r="2.5" fill="#ff00ff"/>
<circle cx="139.40" cy="478.50" r="2.5" fill="#ff00ff"/>
<circle cx="137.10" cy="487.50" r="2.5" fill="#ff00ff"/>
<circle cx="136.00" cy="493.50" r="2.5" fill="#ff00ff"/>
<circle cx="93.20" cy="474.10" r="2.5" fill="#ff00ff"/>
<circle cx="104.10" cy="503.40" r="2.5" fill="#ff00ff"/>
<circle cx="107.00" cy="504.50" r="2.5" fill="#ff00ff"/>
<circle cx="101.10" cy="514.80" r="2.5" fill="#ff00ff"/>
<circle cx="180.00" cy="461.30" r="2.5" fill="#ff00ff"/>
<circle cx="186.40" cy="478.40" r="2.5" fill="#ff00ff"/>
<circle cx="240.80" cy="476.80" r="2.5" fill="#ff00ff"/>
<circle cx="176.30" cy="529.20" r="2.5" fill="#ff00ff"/>
<circle cx="156.90" cy="569.20" r="2.5" fill="#ff00ff"/>
<circle cx="295.60" cy="450.00" r="2.5" fill="#ff00ff"/>
<polygon points="367.50,415.78 371.10,422.02 363.90,422.02" fill="#0000ff"/>
<polygon points="374.40,414.08 378.00,420.32 370.80,420.32" fill="#0000ff"/>
<polygon points="375.50,423.78 379.10,430.02 371.90,430.02" fill="#0000ff"/>
<polygon points="380.90,426.88 384.50,433.12 377.30,433.12" fill="#0000ff"/>
<polygon points="381.10,433.78 384.70,440.02 377.50,440.02" fill="#0000ff"/>
<polygon points="393.30,447.38 396.90,453.62 389.70,453.62" fill="#0000ff"/>
<polygon points="399.40,446.08 403.00,452.32 395.80,452.32" fill="#0000ff"/>
<polygon points="413.50,441.48 417.10,447.72 409.90,447.72" fill="#0000ff"/>
<polygon points="412.00,447.58 415.60,453.82 408.40,453.82" fill="#0000ff"/>
<polygon points="415.10,454.98 418.70,461.22 411.50,461.22" fill="#0000ff"/>
<polygon points="382.50,462.28 386.10,468.52 378.90,468.52" fill="#0000ff"/>
<polygon points="394.90,465.88 398.50,472.12 391.30,472.12" fill="#0000ff"/>
<polygon points="404.60,463.88 408.20,470.12 401.00,470.12" fill="#0000ff"/>
<polygon points="405.40,466.78 409.00,473.02 401.80,473.02" fill="#0000ff"/>
<polygon points="427.30,462.78 430.90,469.02 423.70,469.02" fill="#0000ff"/>
<polygon points="406.10,478.18 409.70,484.42 402.50,484.42" fill="#0000ff"/>
<polygon points="413.50,478.18 417.10,484.42 409.90,484.42" fill="#0000ff"/>
<polygon points="411.40,484.88 415.00,491.12 407.80,491.12" fill="#0000ff"/>
<circle cx="427.80" cy="445.90" r="2.5" fill="#ff00ff"/>
<circle cx="432.50" cy="460.70" r="2.5" fill="#ff00ff"/>
<circle cx="433.60" cy="465.20" r="2.5" fill="#ff00ff"/>
<circle cx="439.90" cy="459.20" r="2.5" fill="#ff00ff"/>
<circle cx="476.10" cy="449.60" r="2.5" fill="#ff00ff"/>
<circle cx="467.30" cy="476.40" r="2.5" fill="#ff00ff"/>
<circle cx="414.30" cy="487.10" r="2.5" fill="#ff00ff"/>
<circle cx="521.90" cy="473.60" r="2.5" fill="#ff00ff"/>
<circle cx="514.20" cy="478.00" r="2.5" fill="#ff00ff"/>
<circle cx="523.40" cy="478.00" r="2.5" fill="#ff00ff"/>
<circle cx="523.30" cy="493.00" r="2.5" fill="#ff00ff"/>
<circle cx="506.70" cy="503.10" r="2.5" fill="#ff00ff"/>
<circle cx="527.60" cy="504.30" r="2.5" fill="#ff00ff"/>
<circle cx="520.90" cy="514.40" r="2.5" fill="#ff00ff"/>
<circle cx="563.80" cy="467.30" r="2.5" fill="#ff00ff"/>
<circle cx="562.50" cy="475.90" r="2.5" fill="#ff00ff"/>
<circle cx="404.40" cy="528.80" r="2.5" fill="#ff00ff"/>
<circle cx="439.60" cy="569.10" r="2.5" fill="#ff00ff"/>
<polygon points="893,619.5 889.8,622.8 893,626" fill="#8a8a8a"/>
</svg>
</body></html>
